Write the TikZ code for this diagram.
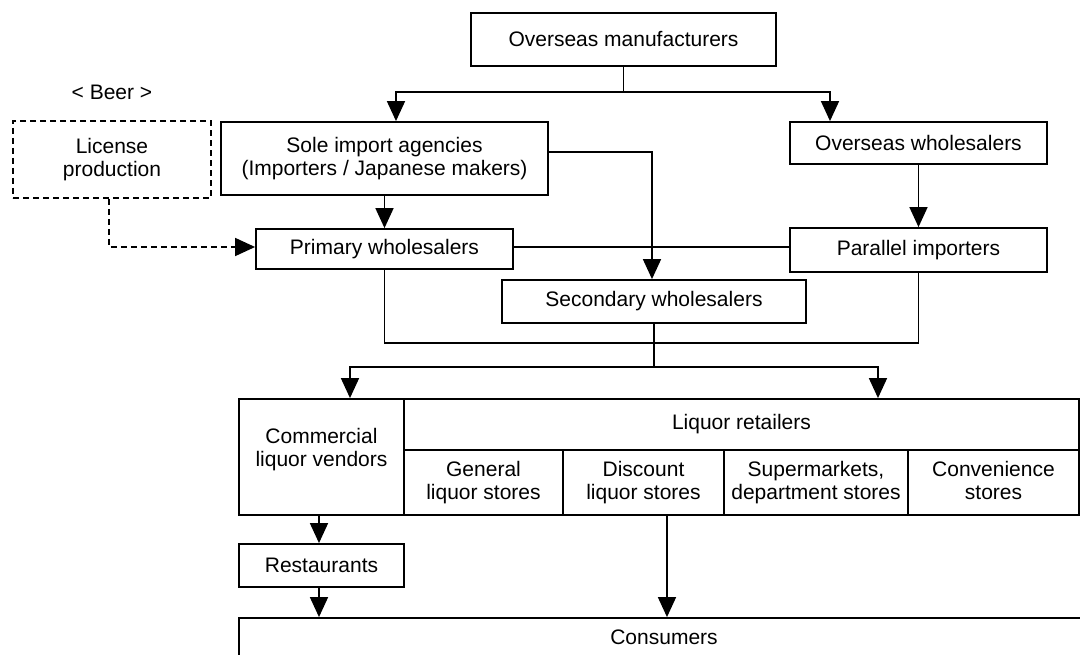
\documentclass[tikz,border=0pt]{standalone}
\usepackage{fontspec}
\setmainfont{Liberation Sans}
\usetikzlibrary{arrows.meta}
\begin{document}
\begin{tikzpicture}[x=1pt,y=-1pt,
  every node/.style={font=\fontsize{21}{23}\selectfont, align=center, inner sep=0pt},
  box/.style={draw, line width=1.8pt, fill=white},
  cell/.style={box, minimum height=65pt, text depth=4.5pt},
  dbox/.style={draw, line width=1.8pt, dash pattern=on 6pt off 4pt},
  conn/.style={line width=1.6pt},
  arr/.style={line width=1.6pt, -{Triangle[length=20pt,width=18pt]}},
  darr/.style={line width=1.6pt, dash pattern=on 6pt off 4pt, -{Triangle[length=20pt,width=18pt]}}]
\clip (0,0) rectangle (1080,655);
\fill[white] (0,0) rectangle (1080,655);

% nodes
\node[box, minimum width=305pt, minimum height=53pt] (mfr) at (623.5,39.5) {Overseas manufacturers};
\node (beer) at (112,92) {< Beer >};
\node[dbox, minimum width=198pt, minimum height=77pt] (lic) at (112,159.5) {License\\production};
\node[box, minimum width=327pt, minimum height=73pt] (sole) at (384.5,158.5) {Sole import agencies\\(Importers / Japanese makers)};
\node[box, minimum width=257pt, minimum height=42pt] (ow) at (918.5,143) {Overseas wholesalers};
\node[box, minimum width=257pt, minimum height=40pt] (prim) at (384.5,249) {Primary wholesalers};
\node[box, minimum width=257pt, minimum height=44pt] (pi) at (918.5,250) {Parallel importers};
\node[box, minimum width=304pt, minimum height=43pt] (sec) at (654,301.5) {Secondary wholesalers};

\node[box, minimum width=165pt, minimum height=116pt] (comm) at (321.5,457) {};
\node (commlbl) at (321.5,450) {Commercial\\liquor vendors};
\node[box, minimum width=675pt, minimum height=51pt] (ret) at (741.5,424.5) {Liquor retailers};
\node[cell, minimum width=159pt] (gen) at (483.5,482.5) {General\\liquor stores};
\node[cell, minimum width=161pt] (dis) at (643.5,482.5) {Discount\\liquor stores};
\node[cell, minimum width=184pt] (sup) at (816,482.5) {Supermarkets,\\department stores};
\node[cell, minimum width=171pt] (conv) at (993.5,482.5) {Convenience\\stores};

\node[box, minimum width=165pt, minimum height=43pt] (rest) at (321.5,565.5) {Restaurants};
\node[box, minimum width=850pt, minimum height=38pt] (cons) at (664,637) {Consumers};

% connectors
\coordinate (j0) at (623.5,92);
\draw[conn] (mfr.south) -- (j0);
\draw[arr] (j0) -| ([xshift=11.5pt]sole.north);
\draw[arr] (j0) -| ([xshift=-88.5pt]ow.north);
\draw[arr] (sole.south) -- (prim.north);
\draw[arr] ([yshift=6.5pt]sole.east) -| ([xshift=-2pt]sec.north);
\draw[darr] ([xshift=-3pt]lic.south) |- ([yshift=2pt]prim.west);
\draw[conn] ([yshift=2pt]prim.east) -- ([yshift=2pt]prim.east -| pi.west);
\draw[arr] (ow.south) -- (pi.north);

\coordinate (bk) at (650,343);
\draw[conn] (prim.south) |- (bk) -| (pi.south);

\coordinate (j1) at (654,367);
\draw[conn] (sec.south) -- (j1);
\draw[arr] (j1) -| ([xshift=28.5pt]comm.north);
\draw[arr] (j1) -| ([xshift=136.5pt]ret.north);

\draw[arr] ([xshift=-2.5pt]comm.south) -- ([xshift=-2.5pt]rest.north);
\draw[arr] ([xshift=-2.5pt]rest.south) -- ([xshift=-2.5pt]rest.south |- cons.north);
\draw[arr] ([xshift=23.5pt]dis.south) -- ([xshift=23.5pt]dis.south |- cons.north);
\end{tikzpicture}
\end{document}
